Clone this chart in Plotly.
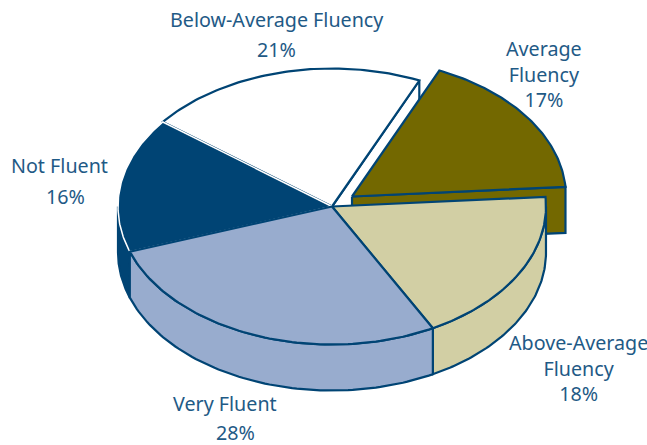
import numpy as np
import plotly.graph_objects as go

# Data
categories = ["Above-Average Fluency", "Very Fluent", "Not Fluent", "Below-Average Fluency", "Average Fluency"]
shares = [18.3, 27.5, 15.8, 21.2, 17.2]
colors = ["#D2CFA4", "#98ACCE", "#004474", "#FFFFFF", "#736800"]

label_text = ["Below-Average Fluency", "21%", "Average<br>Fluency<br>17%", "Not Fluent", "16%",
              "Above-Average<br>Fluency<br>18%", "Very Fluent", "28%"]
label_x = [277, 276, 544, 59, 65, 578, 225, 235]
label_y = [19, 49, 74, 165, 196, 368, 403, 432]

# Projection of the tilted pie on the page
CX, CY, RX, RY, DEPTH = 332, 206.5, 214, 138, 46
START = -4
EXPLODE = {"Average Fluency": (20, -10)}
LINE = "#004474"
TEXT = "#1F5A86"

bounds = START + np.concatenate([[0], np.cumsum(shares)]) * 360 / sum(shares)
span = {c: (bounds[i], bounds[i + 1]) for i, c in enumerate(categories)}
col = dict(zip(categories, colors))


def arc(cat, a=None, b=None, dz=0):
    s, e = span[cat]
    a = s if a is None else a
    b = e if b is None else b
    ox, oy = EXPLODE.get(cat, (0, 0))
    t = np.radians(np.linspace(a, b, 80))
    return CX + ox + RX * np.cos(t), CY + oy + RY * np.sin(t) + dz


def tip(cat, dz=0):
    ox, oy = EXPLODE.get(cat, (0, 0))
    return CX + ox, CY + oy + dz


fig = go.Figure()


def poly(x, y, fill, line=LINE, width=2.2):
    fig.add_trace(go.Scatter(x=list(x), y=list(y), mode="lines", fill="toself", fillcolor=fill,
                             line=dict(color=line, width=width), hoverinfo="skip", showlegend=False))


def top(cat, line=LINE, width=2.2):
    x, y = arc(cat)
    tx, ty = tip(cat)
    poly([tx, *x, tx], [ty, *y, ty], col[cat], line, width)


def rim_wall(cat, a=None, b=None):
    x, y = arc(cat, a, b)
    x2, y2 = arc(cat, a, b, DEPTH)
    poly([*x, *x2[::-1], x[0]], [*y, *y2[::-1], y[0]], col[cat])


def cut_wall(cat, angle):
    x, y = arc(cat, angle, angle)
    tx, ty = tip(cat)
    poly([tx, x[0], x[0], tx, tx], [ty, y[0], y[0] + DEPTH, ty + DEPTH, ty], col[cat])


# back to front
cut_wall("Below-Average Fluency", span["Below-Average Fluency"][1])
top("Below-Average Fluency")
cut_wall("Average Fluency", span["Average Fluency"][1])
top("Average Fluency")
rim_wall("Not Fluent", None, 180)
top("Not Fluent", "#FFFFFF", 1.5)
rim_wall("Above-Average Fluency", 0, None)
top("Above-Average Fluency")
rim_wall("Very Fluent")
top("Very Fluent")

for t, x, y in zip(label_text, label_x, label_y):
    fig.add_annotation(x=x, y=y, text=t, showarrow=False, xanchor="center", yanchor="middle", align="center",
                       font=dict(family="Noto Sans", size=19.7, color=TEXT))

fig.update_layout(width=647, height=445, margin=dict(l=0, r=0, t=0, b=0),
                  paper_bgcolor="white", plot_bgcolor="white",
                  xaxis=dict(range=[0, 647], visible=False, fixedrange=True),
                  yaxis=dict(range=[445, 0], visible=False, fixedrange=True),
                  showlegend=False)
fig.write_html("out.html", config={"displayModeBar": False},
               post_script="document.body.style.margin='0';document.documentElement.style.overflow='hidden';")
